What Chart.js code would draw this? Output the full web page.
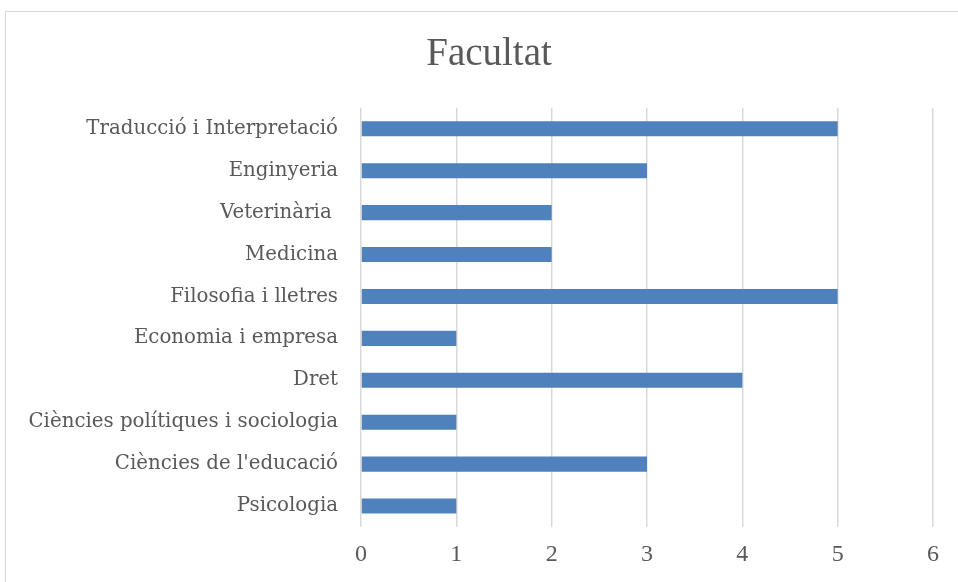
<!DOCTYPE html>
<html>
<head>
<meta charset="utf-8">
<script src="https://cdn.jsdelivr.net/npm/chart.js@4"></script>
<style>
  html, body { margin: 0; padding: 0; background: #fff; }
  #wrap { position: relative; width: 958px; height: 582px; overflow: hidden; }
  #frame { position: absolute; left: 5px; top: 11px; width: 1000px; height: 700px; border: 1px solid #d9d9d9; }
  #chart { position: absolute; left: 0; top: 0; }
</style>
</head>
<body>
<div id="wrap">
  <div id="frame"></div>
  <canvas id="chart" width="958" height="582"></canvas>
</div>
<script>
const facultats = [
  'Traducció i Interpretació',
  'Enginyeria',
  'Veterinària ',
  'Medicina',
  'Filosofia i lletres',
  'Economia i empresa',
  'Dret',
  'Ciències polítiques i sociologia',
  "Ciències de l'educació",
  'Psicologia'
];
const respostes = [5, 3, 2, 2, 5, 1, 4, 1, 3, 1];
const xTicks = [0, 1, 2, 3, 4, 5, 6];

const textColor = '#595959';
const gridColor = '#d9d9d9';

const ctx = document.getElementById('chart').getContext('2d');
new Chart(ctx, {
  type: 'bar',
  data: {
    labels: facultats,
    datasets: [{
      label: 'Facultat',
      data: respostes,
      backgroundColor: '#4f81bd',
      borderWidth: 0,
      barPercentage: 0.72,
      categoryPercentage: 0.5
    }]
  },
  options: {
    indexAxis: 'y',
    responsive: false,
    animation: false,
    layout: { padding: { left: 20, right: 0, top: 0, bottom: 0 } },
    plugins: {
      legend: { display: false },
      tooltip: { enabled: false },
      title: {
        display: true,
        text: 'Facultat',
        color: textColor,
        font: { family: 'Liberation Serif', size: 39, weight: 'normal', lineHeight: 1.2 },
        padding: { top: 31, bottom: 30 }
      }
    },
    scales: {
      x: {
        min: xTicks[0],
        max: xTicks[xTicks.length - 1],
        afterBuildTicks: (axis) => { axis.ticks = xTicks.map(v => ({ value: v })); },
        grid: { color: gridColor, lineWidth: 1.5, drawTicks: false },
        border: { display: false },
        ticks: {
          color: textColor,
          padding: 13,
          font: { family: 'Liberation Serif', size: 24 }
        },
        afterFit: (axis) => { axis.height = 582 - 527; }
      },
      y: {
        grid: { display: false, drawTicks: false },
        border: { display: false },
        ticks: {
          color: textColor,
          padding: 23,
          font: { family: 'DejaVu Serif', size: 19.8 }
        },
        afterFit: (axis) => { axis.width = 361 - 20; }
      },
      // empty right-hand axis, only reserves the gap after the last gridline
      yRight: {
        type: 'category',
        position: 'right',
        grid: { display: false, drawTicks: false },
        border: { display: false },
        ticks: { display: false },
        afterFit: (axis) => { axis.width = 25; }
      }
    }
  }
});
</script>
</body>
</html>
